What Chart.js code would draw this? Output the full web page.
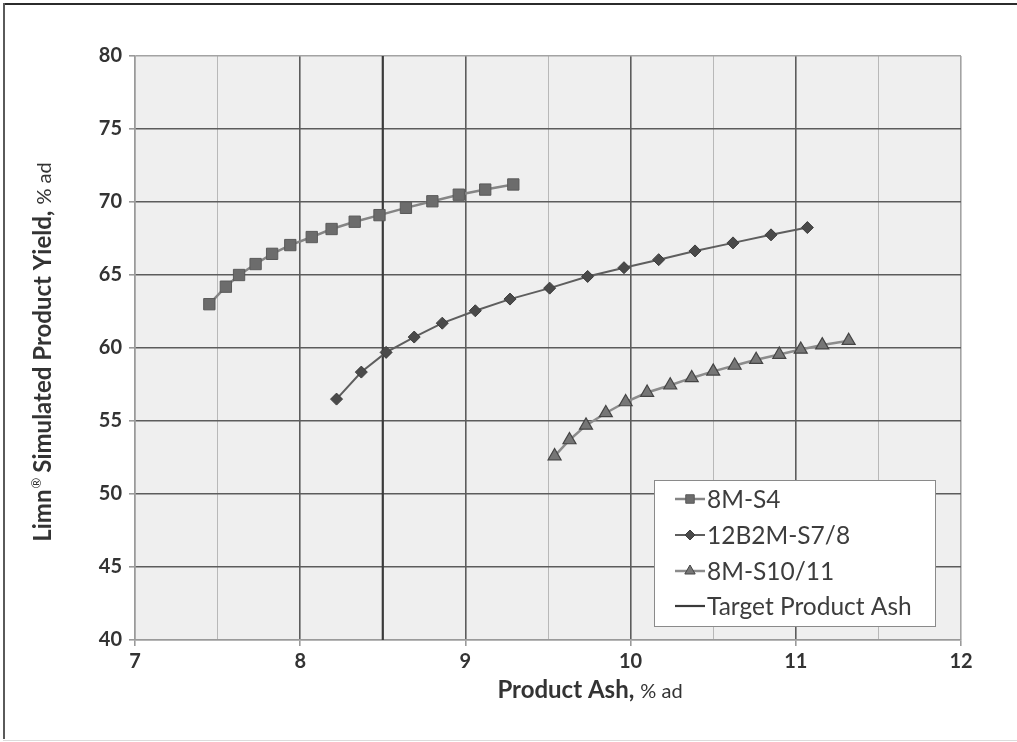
<!DOCTYPE html>
<html>
<head>
<meta charset="utf-8">
<title>Limn simulated product yield vs product ash</title>
<script src="https://cdn.jsdelivr.net/npm/chart.js@4.4.1/dist/chart.umd.min.js"></script>
<style>
  html, body { margin: 0; padding: 0; background: #ffffff; }
  #wrap { position: relative; width: 1017px; height: 742px; }
  canvas { display: block; }
</style>
</head>
<body>
<div id="wrap"><canvas id="chart" width="1017" height="742"></canvas></div>
<script>
// Product ash (% ad) and simulated yield (% ad) for each circuit configuration
const ashS4 = [7.45, 7.55, 7.63, 7.73, 7.83, 7.94, 8.07, 8.19, 8.33, 8.48, 8.64, 8.80, 8.96, 9.12, 9.29];
const yieldS4 = [63.0, 64.2, 65.0, 65.75, 66.45, 67.05, 67.6, 68.15, 68.65, 69.1, 69.6, 70.05, 70.5, 70.85, 71.2];

const ashS78 = [8.22, 8.37, 8.52, 8.69, 8.86, 9.06, 9.27, 9.51, 9.74, 9.96, 10.17, 10.39, 10.62, 10.85, 11.07];
const yieldS78 = [56.5, 58.35, 59.7, 60.75, 61.7, 62.55, 63.35, 64.1, 64.9, 65.5, 66.05, 66.65, 67.2, 67.75, 68.25];

const ashS1011 = [9.54, 9.63, 9.73, 9.85, 9.97, 10.10, 10.24, 10.37, 10.50, 10.63, 10.76, 10.90, 11.03, 11.16, 11.32];
const yieldS1011 = [52.6, 53.7, 54.7, 55.55, 56.3, 56.95, 57.45, 57.95, 58.4, 58.8, 59.2, 59.55, 59.9, 60.2, 60.5];

const targetAsh = 8.5;

const seriesNames = ['8M-S4', '12B2M-S7/8', '8M-S10/11', 'Target Product Ash'];

const xTicks = [7, 8, 9, 10, 11, 12];
const yTicks = [40, 45, 50, 55, 60, 65, 70, 75, 80];

const FONT = 'Lato, "Open Sans", "DejaVu Sans", sans-serif';

function points(xs, ys) {
  return xs.map((x, i) => ({ x: x, y: ys[i] }));
}

const xMin = xTicks[0], xMax = xTicks[xTicks.length - 1];
const yMin = yTicks[0], yMax = yTicks[yTicks.length - 1];

const isMajorX = v => Math.abs(v - Math.round(v)) < 1e-6;

// Outer frame lines around the figure
const framePlugin = {
  id: 'frame',
  beforeDraw(chart) {
    const c = chart.ctx;
    c.save();
    c.fillStyle = '#ffffff';
    c.fillRect(0, 0, chart.width, chart.height);
    c.fillStyle = '#2b2b2b';
    c.fillRect(3, 3, chart.width - 3, 2);
    c.fillStyle = '#5a5a5a';
    c.fillRect(3, 3, 2, chart.height - 6);
    c.fillStyle = '#dcdcdc';
    c.fillRect(3, chart.height - 2, chart.width - 3, 1);
    c.restore();
  }
};

// Plot area fill drawn beneath the grid
const plotBgPlugin = {
  id: 'plotBg',
  beforeDraw(chart) {
    const a = chart.chartArea, c = chart.ctx;
    c.save();
    c.fillStyle = '#efefef';
    c.fillRect(a.left, a.top, a.right - a.left, a.bottom - a.top);
    c.restore();
  }
};

// Axis titles with a bold main part and a lighter unit part
function drawMixed(c, parts, cx, cy) {
  let total = 0;
  parts.forEach(p => { c.font = p.font; p.w = c.measureText(p.text).width; total += p.w + (p.gap || 0); });
  let x = cx - total / 2;
  parts.forEach(p => {
    c.font = p.font;
    c.fillText(p.text, x, cy + (p.dy || 0));
    x += p.w + (p.gap || 0);
  });
}

const titlesPlugin = {
  id: 'axisTitles',
  afterDraw(chart) {
    const c = chart.ctx;
    c.save();
    c.fillStyle = '#333333';
    c.textBaseline = 'alphabetic';
    c.textAlign = 'left';
    drawMixed(c, [
      { text: 'Product Ash,', font: 'bold 24px ' + FONT, gap: 6 },
      { text: '% ad', font: '20px ' + FONT }
    ], 590, 698);

    c.translate(51, 352);
    c.rotate(-Math.PI / 2);
    drawMixed(c, [
      { text: 'Limn', font: 'bold 24px ' + FONT, gap: 1 },
      { text: '®', font: '13px ' + FONT, dy: -10, gap: 5 },
      { text: 'Simulated Product Yield,', font: 'bold 24px ' + FONT, gap: 6 },
      { text: '% ad', font: '20px ' + FONT }
    ], 0, 0);
    c.restore();
  }
};

// Marker shapes shared by the legend
function drawMarker(c, style, x, y, r, fill, stroke) {
  c.beginPath();
  if (style === 'rect') {
    const s = r * Math.SQRT1_2;
    c.rect(x - s, y - s, 2 * s, 2 * s);
  } else if (style === 'rectRot') {
    c.moveTo(x, y - r); c.lineTo(x + r, y); c.lineTo(x, y + r); c.lineTo(x - r, y); c.closePath();
  } else if (style === 'triangle') {
    c.moveTo(x, y - r);
    c.lineTo(x + r * Math.sin(Math.PI / 3), y + r / 2);
    c.lineTo(x - r * Math.sin(Math.PI / 3), y + r / 2);
    c.closePath();
  }
  c.fillStyle = fill; c.fill();
  c.lineWidth = 1; c.strokeStyle = stroke; c.stroke();
}

// Boxed legend placed inside the plot area, lower right
const legendPlugin = {
  id: 'insideLegend',
  afterDraw(chart) {
    const c = chart.ctx;
    const bx = 654, by = 480, bw = 281, bh = 146;
    c.save();
    c.fillStyle = '#ffffff';
    c.fillRect(bx, by, bw, bh);
    c.strokeStyle = '#8a8a8a';
    c.lineWidth = 1;
    c.strokeRect(bx + 0.5, by + 0.5, bw, bh);
    const rows = [499, 535, 571, 606];
    chart.data.datasets.forEach((ds, i) => {
      const y = rows[i];
      c.strokeStyle = ds.borderColor;
      c.lineWidth = ds.borderWidth;
      c.beginPath(); c.moveTo(675, y); c.lineTo(705, y); c.stroke();
      if (ds.pointRadius > 0) {
        drawMarker(c, ds.pointStyle, 690, y, ds.legendRadius, ds.pointBackgroundColor, ds.pointBorderColor);
      }
      c.fillStyle = '#3d3d3d';
      c.font = '24.5px ' + FONT;
      c.textBaseline = 'middle';
      c.textAlign = 'left';
      c.fillText(ds.label, 707, y + 1);
    });
    c.restore();
  }
};

const tickFont = { family: FONT, size: 20, weight: 'bold' };

new Chart(document.getElementById('chart'), {
  type: 'scatter',
  data: {
    datasets: [
      {
        label: seriesNames[0], data: points(ashS4, yieldS4), showLine: true,
        borderColor: '#858585', borderWidth: 2.5,
        pointStyle: 'rect', pointRadius: 8, legendRadius: 6,
        pointBackgroundColor: '#6c6c6c', pointBorderColor: '#5a5a5a', pointBorderWidth: 1
      },
      {
        label: seriesNames[1], data: points(ashS78, yieldS78), showLine: true,
        borderColor: '#5e5e5e', borderWidth: 2,
        pointStyle: 'rectRot', pointRadius: 6, legendRadius: 5,
        pointBackgroundColor: '#4a4a4a', pointBorderColor: '#3c3c3c', pointBorderWidth: 1
      },
      {
        label: seriesNames[2], data: points(ashS1011, yieldS1011), showLine: true,
        borderColor: '#8c8c8c', borderWidth: 2.5,
        pointStyle: 'triangle', pointRadius: 7.5, legendRadius: 6,
        pointBackgroundColor: '#767676', pointBorderColor: '#444444', pointBorderWidth: 1.2
      },
      {
        label: seriesNames[3], data: [{ x: targetAsh, y: yMin }, { x: targetAsh, y: yMax }], showLine: true,
        borderColor: '#3a3a3a', borderWidth: 2.2, pointRadius: 0, legendRadius: 0
      }
    ]
  },
  options: {
    responsive: false,
    animation: false,
    events: [],
    layout: { padding: { top: 56, right: 56, left: 0, bottom: 0 } },
    plugins: { legend: { display: false }, tooltip: { enabled: false } },
    scales: {
      x: {
        type: 'linear', min: xMin, max: xMax,
        afterFit(s) { s.height = 102; },
        afterBuildTicks(s) {
          const t = [];
          for (let v = xMin; v <= xMax + 1e-9; v += 0.5) t.push({ value: v });
          s.ticks = t;
        },
        ticks: {
          stepSize: 0.5, autoSkip: false, maxRotation: 0,
          font: tickFont, color: '#333333', padding: 4,
          callback: v => (isMajorX(v) && xTicks.includes(Math.round(v))) ? String(Math.round(v)) : ''
        },
        grid: {
          drawOnChartArea: true,
          tickLength: 6,
          color: ctx => {
            const v = ctx.tick.value;
            if (v === xMin || v === xMax) return '#a3a3a3';
            return isMajorX(v) ? '#5c5c5c' : '#b8b8b8';
          },
          lineWidth: ctx => isMajorX(ctx.tick.value) ? 1.6 : 1,
          tickColor: ctx => isMajorX(ctx.tick.value) ? '#9a9a9a' : 'rgba(0,0,0,0)'
        },
        border: { display: true, color: '#9a9a9a', width: 1.5 }
      },
      y: {
        type: 'linear', min: yMin, max: yMax,
        afterFit(s) { s.width = 135; },
        afterBuildTicks(s) { s.ticks = yTicks.map(v => ({ value: v })); },
        ticks: { stepSize: 5, font: tickFont, color: '#333333', padding: 7 },
        grid: {
          tickLength: 6,
          color: ctx => (ctx.tick.value === yMax || ctx.tick.value === yMin) ? '#a3a3a3' : '#5c5c5c',
          lineWidth: 1.6,
          tickColor: '#9a9a9a'
        },
        border: { display: true, color: '#9a9a9a', width: 1.5 }
      }
    }
  },
  plugins: [framePlugin, plotBgPlugin, titlesPlugin, legendPlugin]
});
</script>
</body>
</html>
